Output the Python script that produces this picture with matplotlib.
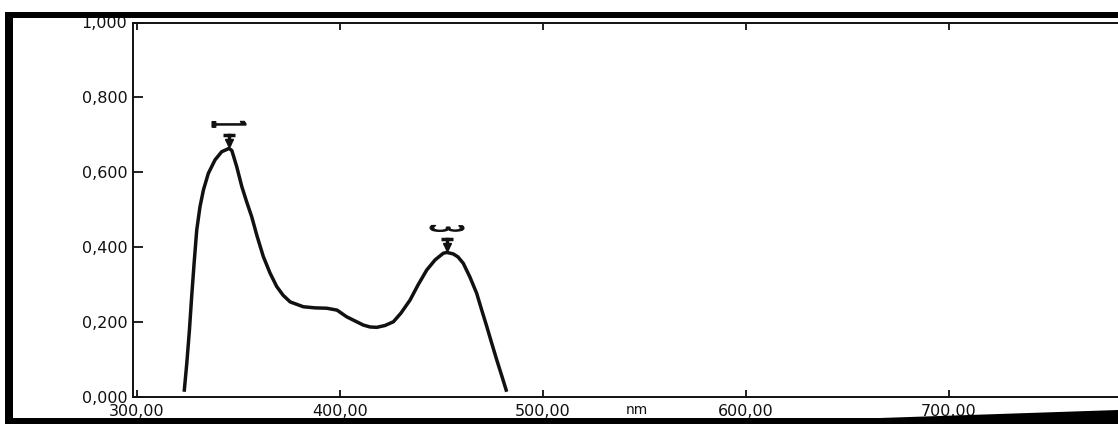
import matplotlib
matplotlib.use("Agg")
import matplotlib.pyplot as plt
import numpy as np
from matplotlib.patches import Rectangle, PathPatch, Polygon
from matplotlib.textpath import TextPath
from matplotlib.font_manager import FontProperties
from matplotlib.transforms import Affine2D, ScaledTranslation

# absorbance spectrum (nm, abs)
wavelength = [323.2, 324.5, 325.8, 326.9, 328.1, 329.4, 331.0, 332.7, 335.1, 338.4,
              341.7, 344.2, 345.3, 346.7, 349.1, 351.6, 354.0, 356.5, 359.1, 362.2,
              365.5, 368.8, 371.9, 375.4, 381.9, 387.7, 393.5, 398.5, 403.3, 407.4,
              411.5, 414.8, 418.1, 422.2, 426.3, 430.0, 434.5, 438.4, 442.7, 446.8,
              450.9, 452.7, 455.8, 458.1, 460.7, 464.0, 467.3, 469.8, 472.3, 474.7,
              477.2, 479.7, 482.1]
absorbance = [0.014, 0.090, 0.179, 0.268, 0.357, 0.446, 0.508, 0.553, 0.597, 0.633,
              0.655, 0.661, 0.664, 0.658, 0.615, 0.562, 0.521, 0.481, 0.430, 0.375,
              0.331, 0.295, 0.272, 0.254, 0.241, 0.238, 0.237, 0.232, 0.214, 0.203,
              0.192, 0.187, 0.186, 0.191, 0.201, 0.224, 0.259, 0.299, 0.339, 0.366,
              0.384, 0.386, 0.382, 0.374, 0.357, 0.320, 0.277, 0.232, 0.188, 0.144,
              0.099, 0.056, 0.014]

# picked peaks
peak_nm = [345.3, 452.7]
peak_abs = [0.664, 0.386]
peak_labels = ["1", "3"]

x_ticks = [300, 400, 500, 600, 700]
x_ticklabels = ["300,00", "400,00", "500,00", "600,00", "700,00"]
y_ticks = [0.0, 0.2, 0.4, 0.6, 0.8, 1.0]
y_ticklabels = ["0,000", "0,200", "0,400", "0,600", "0,800", "1,000"]

W, H = 1118, 424
fig = plt.figure(figsize=(W / 100, H / 100), dpi=100)
fig.patch.set_facecolor("white")
plt.rcParams["font.family"] = ["DejaVu Sans"]

ink = "#111111"
ax = fig.add_axes([133 / W, 27 / H, (1152 - 133) / W, 374.5 / H])
ax.plot(wavelength, absorbance, color=ink, lw=2.5, solid_capstyle="butt")
ax.set_xlim(298, 800)
ax.set_ylim(0, 1)

ax.set_xticks(x_ticks)
ax.set_xticklabels(x_ticklabels)
ax.set_yticks(y_ticks)
ax.set_yticklabels(y_ticklabels)
ax.tick_params(axis="x", direction="in", length=5, width=1.3, pad=5,
               labelsize=11.5, colors=ink, top=True)
ax.tick_params(axis="y", direction="in", length=7, width=1.3, pad=4,
               labelsize=11.5, colors=ink)
for s in ax.spines.values():
    s.set_linewidth(1.4)
    s.set_color(ink)

# peak markers: small down arrow with crossbar
px = 1 / 374.5
for wl, a in zip(peak_nm, peak_abs):
    ax.plot([wl, wl], [a + 4 * px, a + 13 * px], color=ink, lw=2.5, clip_on=False)
    ax.plot(wl, a + 5 * px, marker="v", ms=6, color=ink, clip_on=False)
    ax.plot(wl, a + 13 * px, marker="_", ms=8, mew=2.5, color=ink, clip_on=False)

# peak numbers, printed sideways and squashed
fp = FontProperties(family="DejaVu Sans")
for wl, a, lab in zip(peak_nm, peak_abs, peak_labels):
    tp = TextPath((0, 0), lab, size=1, prop=fp)
    ext = tp.get_extents()
    cx, cy = (ext.x0 + ext.x1) / 2, (ext.y0 + ext.y1) / 2
    tr = (Affine2D().translate(-cx, -cy)
          .scale(6 / ext.width, 34 / ext.height)
          .rotate_deg(-90)
          + ScaledTranslation(wl, a + 24 * px, ax.transData))
    fig.add_artist(PathPatch(tp, transform=tr, facecolor=ink, edgecolor=ink, lw=0.8))

# axis unit, just above the bottom border
fig.text(637 / W, 1 - 403 / H, "nm", ha="center", va="top", fontsize=10, color=ink)

# thick dark border of the printout
def fig_rect(x0, y0, x1, y1):
    fig.add_artist(Rectangle((x0 / W, 1 - y1 / H), (x1 - x0) / W, (y1 - y0) / H,
                             transform=fig.transFigure, facecolor="black",
                             edgecolor="none", zorder=10))

fig_rect(5, 12, W, 18)
fig_rect(5, 12, 13, H)
fig_rect(5, 418, W, H)
fig.add_artist(Polygon([(880 / W, 1 - 418 / H), (1, 1 - 410 / H), (1, 1 - 418 / H)],
                       closed=True, transform=fig.transFigure, facecolor="black",
                       edgecolor="none", zorder=10))

fig.savefig("out.png", dpi=100)
